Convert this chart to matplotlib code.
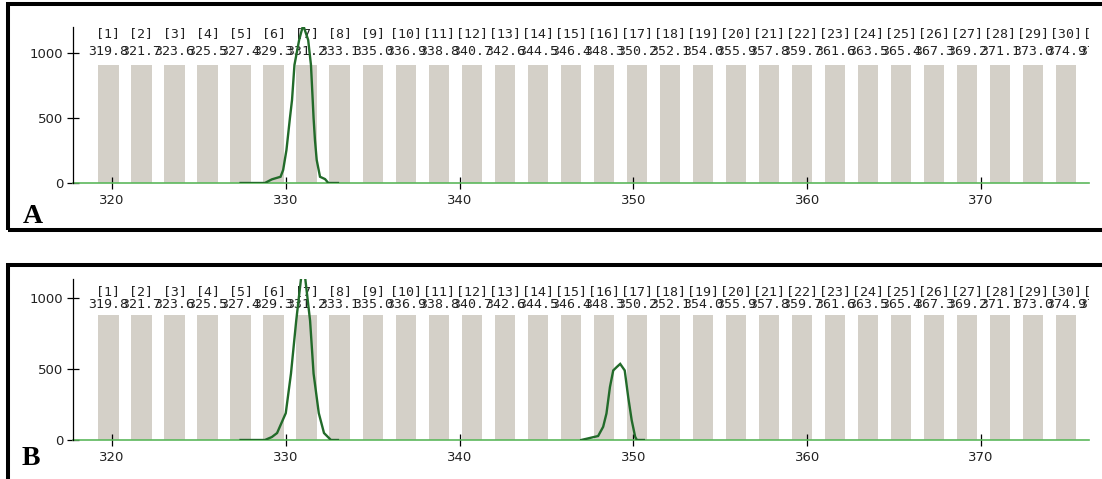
import numpy as np
import matplotlib
matplotlib.use('Agg')
import matplotlib.pyplot as plt
from matplotlib.patches import Rectangle
from matplotlib.transforms import blended_transform_factory

plt.rc('font', family='DejaVu Sans')

# bin centres (size bins) and their index labels
bin_centers = [319.8, 321.7, 323.6, 325.5, 327.4, 329.3, 331.2, 333.1, 335.0, 336.9,
               338.8, 340.7, 342.6, 344.5, 346.4, 348.3, 350.2, 352.1, 354.0, 355.9,
               357.8, 359.7, 361.6, 363.5, 365.4, 367.3, 369.2, 371.1, 373.0, 374.9,
               376.8]
bin_ids = list(range(1, len(bin_centers) + 1))
bar_height_a = 905
bar_height_b = 880

# trace A: one peak near 331
trace_a_x = [327.4, 328.8, 329.2, 329.7, 329.85, 330.04, 330.24, 330.36, 330.5, 330.77,
             331.0, 331.29, 331.45, 331.55, 331.6, 331.68, 331.78, 331.97, 332.26, 332.45, 333.0]
trace_a_y = [0, 0, 28, 48, 100, 254, 500, 638, 908, 1100,
             1215, 1100, 908, 638, 500, 330, 177, 48, 30, 0, 0]

# trace B: peaks near 331 and 349
trace_b1_x = [327.4, 328.8, 329.2, 329.5, 330.0, 330.3, 330.6, 330.9, 331.1, 331.4,
              331.6, 331.9, 332.2, 332.6, 333.0]
trace_b1_y = [0, 0, 21, 49, 189, 468, 839, 1160, 1160, 839,
              468, 189, 49, 0, 0]
trace_b2_x = [347.0, 347.97, 348.26, 348.45, 348.65, 348.84, 349.05, 349.24, 349.5, 349.7,
              349.9, 350.1, 350.2, 350.6]
trace_b2_y = [0, 28, 93, 187, 373, 490, 515, 536, 490, 303,
              140, 23, 0, 0]

yticks = [0, 500, 1000]
xticks = [320, 330, 340, 350, 360, 370]

W, H = 1102, 479
fig = plt.figure(figsize=(W / 100, H / 100), dpi=100)

BAR = '#d4d0c8'
TRACE = '#226b2a'
BASE = '#5cb85c'
TXT = '#222222'


def px_axes(x0, x1, ytop, ybot):
    return fig.add_axes([x0 / W, 1 - ybot / H, (x1 - x0) / W, (ybot - ytop) / H])


def panel(ax, ytop_val, bar_h, traces, id_y, val_y):
    ax.set_xlim(317.76, 376.21)
    ax.set_ylim(0, ytop_val)
    ax.bar(bin_centers, [bar_h] * len(bin_centers), width=1.17, color=BAR, zorder=1)
    for tx, ty in traces:
        ax.plot(tx, ty, color=TRACE, lw=1.7, zorder=3, solid_joinstyle='miter')
    trans = blended_transform_factory(ax.transData, ax.transAxes)
    for c, i in zip(bin_centers, bin_ids):
        ax.text(c, id_y, f'[{i}]', transform=trans, ha='center', va='center',
                family='DejaVu Sans Mono', fontsize=9.5, color=TXT, clip_on=True, zorder=2)
        ax.text(c, val_y, f'{c:.1f}', transform=trans, ha='center', va='center',
                family='DejaVu Sans Mono', fontsize=9.5, color=TXT, clip_on=True, zorder=2)
    for s in ['top', 'right']:
        ax.spines[s].set_visible(False)
    ax.spines['left'].set_color('black')
    ax.spines['left'].set_linewidth(0.9)
    ax.spines['bottom'].set_color(BASE)
    ax.spines['bottom'].set_linewidth(1.2)
    ax.spines['bottom'].set_zorder(2)
    ax.set_yticks(yticks)
    ax.set_xticks(xticks)
    ax.tick_params(axis='both', direction='inout', length=8, width=0.9, color='black',
                   labelsize=9.5, labelcolor=TXT)
    ax.tick_params(axis='y', pad=3)
    ax.tick_params(axis='x', pad=4)
    ax.patch.set_alpha(0)


ax_a = px_axes(73, 1089, 27, 183)
panel(ax_a, 1200, bar_height_a, [(trace_a_x, trace_a_y)], 0.96, 0.84)

ax_b = px_axes(73, 1089, 279, 440)
panel(ax_b, 1134, bar_height_b,
      [(trace_b1_x, trace_b1_y), (trace_b2_x, trace_b2_y)], 0.925, 0.84)

# thick panel frames
for ytop, ybot in [(4.5, 230.5), (265, 495)]:
    fig.add_artist(Rectangle((7.5 / W, 1 - ybot / H), (1120 - 7.5) / W, (ybot - ytop) / H,
                             transform=fig.transFigure, fill=False, edgecolor='black',
                             linewidth=2.9, clip_on=False))

fig.text(23 / W, 1 - 223 / H, 'A', family='Liberation Serif', weight='bold',
         fontsize=20, color='black', va='baseline', ha='left')
fig.text(22 / W, 1 - 465 / H, 'B', family='Liberation Serif', weight='bold',
         fontsize=20, color='black', va='baseline', ha='left')

fig.savefig('out.png', dpi=100)
